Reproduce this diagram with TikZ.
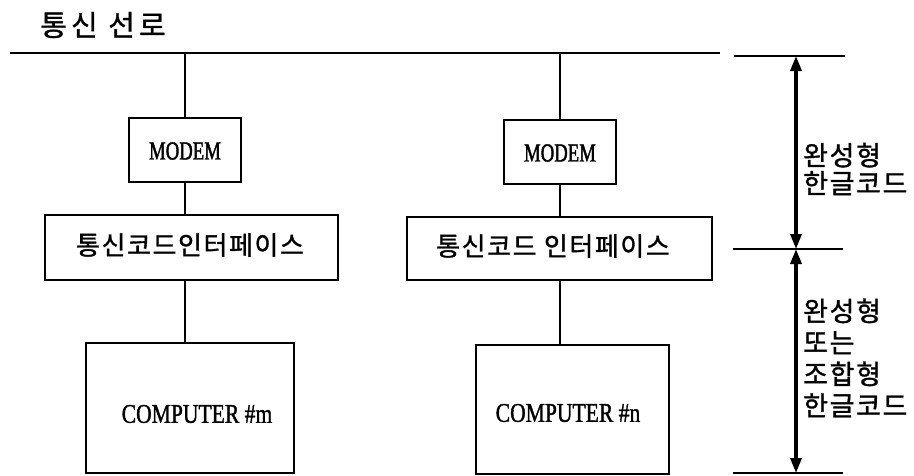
\documentclass[tikz,border=0pt]{standalone}
\usepackage{fontspec}
\usetikzlibrary{arrows.meta}
\newfontfamily\kr[LetterSpace=6,FakeBold=1.2]{Noto Sans CJK KR}
\newfontfamily\krt[LetterSpace=14,FakeBold=1.2]{Noto Sans CJK KR}
\newfontfamily\cond[FakeStretch=0.72,FakeBold=1.5]{Liberation Serif}
\newfontfamily\condc[FakeStretch=0.8,FakeBold=1.2]{Liberation Serif}
\tikzset{
  box/.style={draw, line width=1.4pt, inner sep=0pt},
  wire/.style={line width=1.3pt},
  tick/.style={line width=1.3pt},
  dimarrow/.style={line width=3.5pt, {Triangle[width=11pt,length=15pt]}-{Triangle[width=11pt,length=15pt]}},
  iftxt/.style={font=\kr\fontsize{26}{30}\selectfont, inner sep=0pt},
  mdtxt/.style={font=\cond\fontsize{26}{30}\selectfont, inner sep=0pt},
  cptxt/.style={font=\condc\fontsize{27}{32}\selectfont, inner sep=0pt},
  sidetxt/.style={font=\kr\fontsize{27}{28}\selectfont, inner sep=0pt, align=left, anchor=west},
}
\begin{document}
\begin{tikzpicture}[x=1pt,y=-1pt]
\useasboundingbox (0,0) rectangle (914,475);
% title
\node[font=\krt\fontsize{29}{32}\selectfont, inner sep=0pt] (title) at (103,25) {통신 선로};
% bus
\coordinate (busL) at (10,53);
\coordinate (busR) at (720,53);
\draw[wire] (busL) -- (busR);
% left column
\node[box, minimum width=112pt, minimum height=64pt] (mdL) at (185,150) {};
\node[mdtxt] (mdLt) at (185,151) {MODEM};
\node[box, minimum width=293pt, minimum height=65pt] (ifL) at (191.5,247.5) {};
\node[iftxt] (ifLt) at (190,245) {통신코드인터페이스};
\node[box, minimum width=208pt, minimum height=130pt] (cpL) at (190,408) {};
\node[cptxt] (cpLt) at (197,414) {COMPUTER \#m};
% right column
\node[box, minimum width=112pt, minimum height=64pt] (mdR) at (560,152) {};
\node[mdtxt] (mdRt) at (560,153) {MODEM};
\node[box, minimum width=305pt, minimum height=63pt] (ifR) at (559.5,248.5) {};
\node[iftxt] (ifRt) at (553,246) {통신코드 인터페이스};
\node[box, minimum width=193pt, minimum height=129pt] (cpR) at (572.5,409.5) {};
\node[cptxt] (cpRt) at (568,413) {COMPUTER \#n};
% connectors
\draw[wire] (mdL.north |- busL) -- (mdL.north);
\draw[wire] (mdL.south) -- (mdL.south |- ifL.north);
\draw[wire] (ifL.south -| mdL.south) -- (mdL.south |- cpL.north);
\draw[wire] (mdR.north |- busR) -- (mdR.north);
\draw[wire] (mdR.south) -- (mdR.south |- ifR.north);
\draw[wire] (ifR.south -| mdR.south) -- (mdR.south |- cpR.north);
% dimension ticks
\coordinate (t1a) at (734,56);
\coordinate (t1b) at (845,56);
\coordinate (t2a) at (733,249);
\coordinate (t2b) at (843,249);
\coordinate (t3a) at (733,473);
\coordinate (t3b) at (843,473);
\draw[tick] (t1a) -- (t1b);
\draw[tick] (t2a) -- (t2b);
\draw[tick] (t3a) -- (t3b);
\coordinate (a1) at (796,56);
\coordinate (a2) at (796,249);
\coordinate (a3) at (796,473);
\draw[dimarrow] (a1) -- (a2);
\draw[dimarrow] (a2) -- (a3);
% side labels
\node[sidetxt] (lab1) at (803,169) {완성형\\한글코드};
\node[sidetxt, font=\kr\fontsize{27}{31.5}\selectfont] (lab2) at (803,358) {완성형\\또는\\조합형\\한글코드};
\end{tikzpicture}
\end{document}
